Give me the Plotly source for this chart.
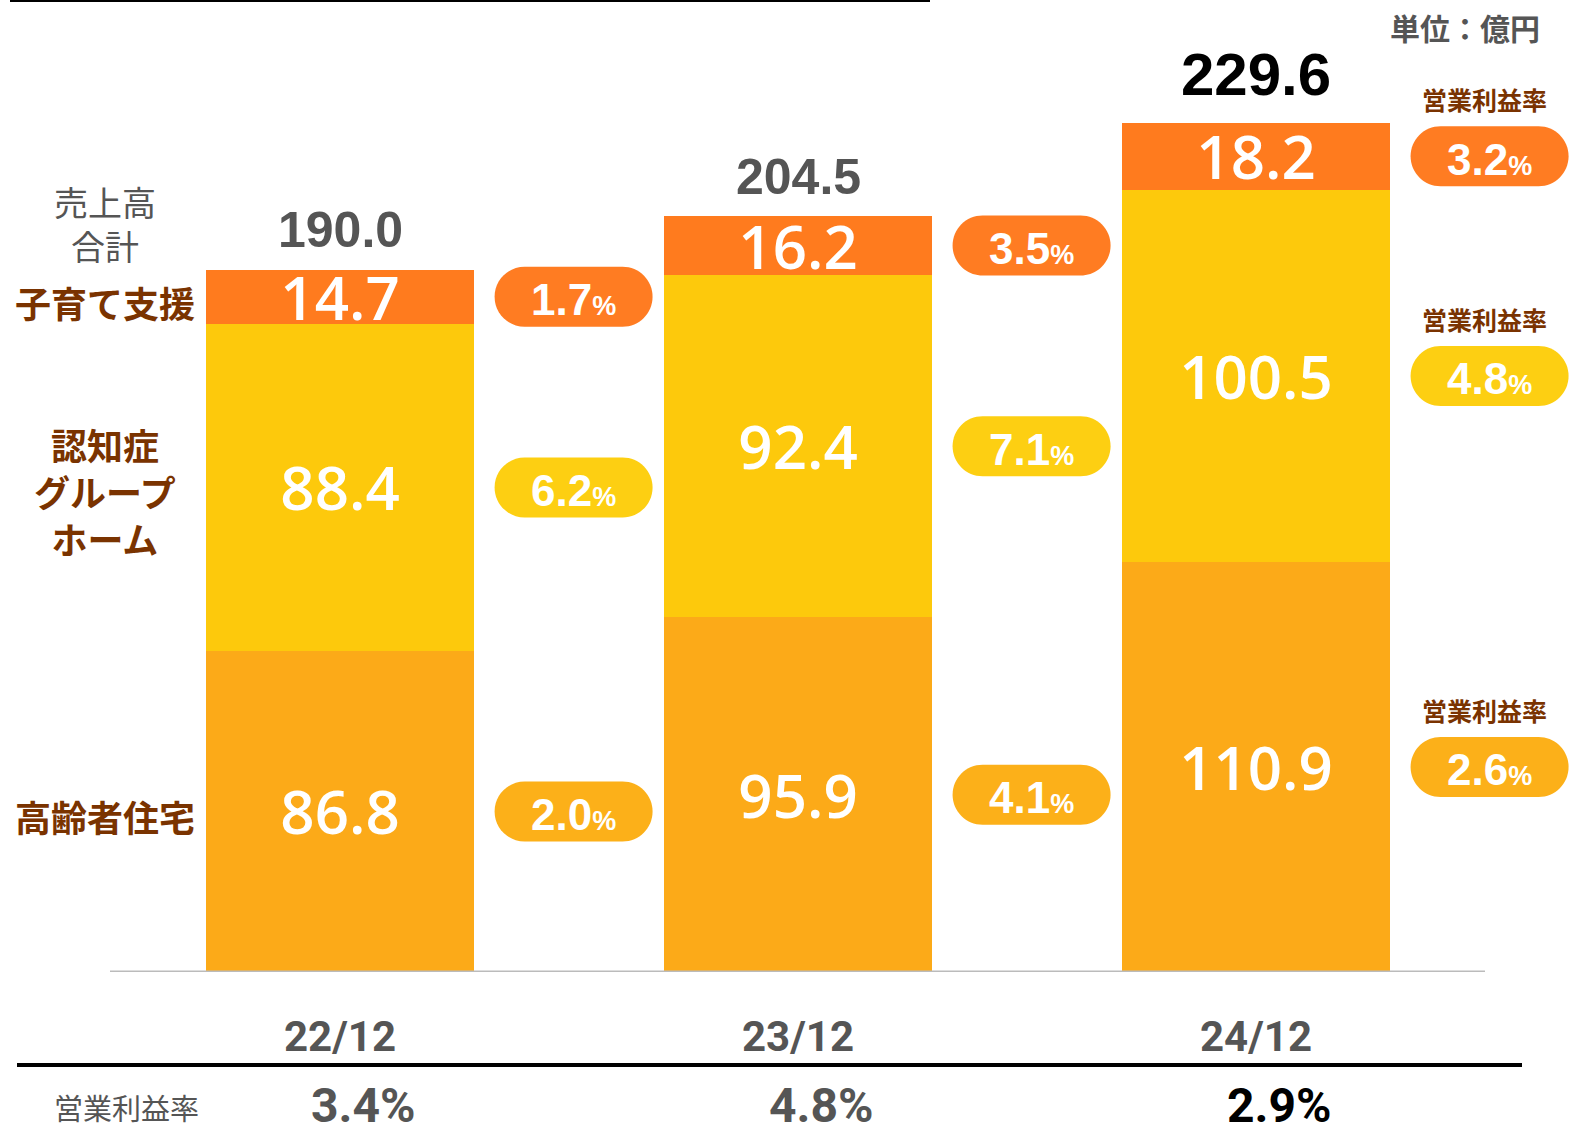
import plotly.graph_objects as go

categories = ["22/12", "23/12", "24/12"]
elderly_housing = [86.8, 95.9, 110.9]
group_home = [88.4, 92.4, 100.5]
childcare = [14.7, 16.2, 18.2]
totals = [190.0, 204.5, 229.6]
margin_childcare = [1.7, 3.5, 3.2]
margin_group_home = [6.2, 7.1, 4.8]
margin_elderly = [2.0, 4.1, 2.6]
total_margin = [3.4, 4.8, 2.9]

xs = list(range(len(categories)))
W, H = 1575, 1143
PLOT_B = 972           # pixel row of the baseline
PLOT_H = PLOT_B - 3    # plot area height
BAR_W = 0.585

NUM_FONT = "Open Sans, Noto Sans, sans-serif"
JP_FONT = "Noto Sans CJK JP, Noto Sans, sans-serif"
BOLD_FONT = "Liberation Sans, Arial, sans-serif"
NARROW_FONT = "Liberation Sans Narrow, Arial Narrow, Roboto, sans-serif"

C_TOP = "#FF7B1E"
C_MID = "#FDC90C"
C_BOT = "#FCAA18"


def py(yp):
    """pixel row -> paper y"""
    return (PLOT_B - yp) / PLOT_H


fig = go.Figure()
for vals, color in [(elderly_housing, C_BOT), (group_home, C_MID), (childcare, C_TOP)]:
    fig.add_trace(go.Bar(
        x=xs, y=vals, width=BAR_W,
        marker=dict(color=color, line=dict(width=0)),
        text=[f"{v:.1f}" for v in vals],
        textposition="inside", insidetextanchor="middle",
        constraintext="none",
        textfont=dict(color="white", size=60, family=NUM_FONT, weight=600),
        hoverinfo="skip", showlegend=False,
    ))

annotations = []
shapes = []


def ann(**kw):
    d = dict(showarrow=False, xanchor="center", yanchor="middle")
    d.update(kw)
    annotations.append(d)


# totals
for i, t in enumerate(totals):
    last = i == len(totals) - 1
    ann(x=i, y=t, xref="x", yref="y", text=f"{t:.1f}",
        yshift=48 if last else 39,
        font=dict(size=60 if last else 50, color="#000" if last else "#555",
                  family=BOLD_FONT, weight="bold"))


# pills
def pill_path(hw=79, hh=30):
    r = hh
    k = 0.5523 * r
    a = hw - r
    return (f"M {-a},{-r} L {a},{-r} "
            f"C {a + k},{-r} {hw},{-k} {hw},0 "
            f"C {hw},{k} {a + k},{r} {a},{r} "
            f"L {-a},{r} "
            f"C {-a - k},{r} {-hw},{k} {-hw},0 "
            f"C {-hw},{-k} {-a - k},{-r} {-a},{-r} Z")


PILL_DX = 0.51
series = [
    (margin_elderly, lambda i: elderly_housing[i] / 2, "#FCB019"),
    (margin_group_home, lambda i: elderly_housing[i] + group_home[i] / 2, "#FDCF12"),
    (margin_childcare, lambda i: elderly_housing[i] + group_home[i] + childcare[i] / 2, "#FF7C22"),
]
for margins, midf, color in series:
    for i, m in enumerate(margins):
        xa = i + PILL_DX
        ya = midf(i)
        shapes.append(dict(
            type="path", xref="x", yref="y", xsizemode="pixel", ysizemode="pixel",
            xanchor=xa, yanchor=ya, path=pill_path(), fillcolor=color,
            line=dict(width=0), layer="above",
        ))
        ann(x=xa, y=ya, xref="x", yref="y", yshift=-3,
            text=f"{m:.1f}<span style='font-size:27px'>%</span>",
            font=dict(size=44, color="white", family=BOLD_FONT, weight="bold"))
        if i == len(margins) - 1:
            ann(x=xa, y=ya, xref="x", yref="y", yshift=57, xshift=-5,
                text="営業利益率",
                font=dict(size=25, color="#7A3300", family=JP_FONT, weight="bold"))

# left labels
LX = 105 / W
ann(x=LX, y=totals[0], xref="paper", yref="y", yshift=46,
    text="売上高<br>合計", font=dict(size=34, color="#555", family=JP_FONT), align="center")
ann(x=LX, y=elderly_housing[0] + group_home[0] + childcare[0] / 2, xref="paper", yref="y",
    yshift=-5, text="子育て支援",
    font=dict(size=36, color="#7A3300", family=JP_FONT, weight="bold"))
ann(x=LX, y=elderly_housing[0] + group_home[0] / 2, xref="paper", yref="y",
    yshift=-4, text="認知症<br>グループ<br>ホーム", align="center",
    font=dict(size=36, color="#7A3300", family=JP_FONT, weight="bold"))
ann(x=LX, y=elderly_housing[0] / 2, xref="paper", yref="y",
    yshift=-5, text="高齢者住宅",
    font=dict(size=36, color="#7A3300", family=JP_FONT, weight="bold"))
ann(x=1465 / W, y=py(27), xref="paper", yref="paper",
    text="単位：億円", font=dict(size=30, color="#555", family=JP_FONT, weight="bold"))

# bottom row
ann(x=127 / W, y=py(1107), xref="paper", yref="paper",
    text="営業利益率", font=dict(size=29, color="#555", family=JP_FONT))
for i, v in enumerate(total_margin):
    last = i == len(total_margin) - 1
    ann(x=i + 0.05, y=py(1105), xref="x", yref="paper", text=f"{v:.1f}%",
        font=dict(size=48, color="#000" if last else "#555", family=NARROW_FONT, weight="bold"))

# lines
shapes += [
    dict(type="line", xref="paper", yref="y", x0=110 / W, x1=1485 / W, y0=0, y1=0,
         line=dict(color="#BBBBBB", width=3), layer="above"),
    dict(type="line", xref="paper", yref="paper", x0=10 / W, x1=930 / W,
         y0=py(1), y1=py(1), line=dict(color="#000", width=2)),
    dict(type="line", xref="paper", yref="paper", x0=17 / W, x1=1522 / W,
         y0=py(1065), y1=py(1065), line=dict(color="#000", width=4)),
]

fig.update_layout(
    width=W, height=H, barmode="stack",
    margin=dict(l=0, r=0, t=3, b=H - PLOT_B, autoexpand=False),
    paper_bgcolor="white", plot_bgcolor="white",
    annotations=annotations, shapes=shapes,
    xaxis=dict(range=[-340 / 458, (W - 340) / 458], tickvals=xs, ticktext=categories,
               showgrid=False, zeroline=False, showline=False,
               ticks="outside", ticklen=28, tickcolor="rgba(0,0,0,0)",
               tickfont=dict(size=42, color="#555", family=NARROW_FONT, weight="bold")),
    yaxis=dict(range=[0, PLOT_H / 3.699], visible=False),
)

fig.write_html("out.html", config={"displayModeBar": False},
               post_script="document.body.style.margin='0';document.body.style.overflow='hidden';")
